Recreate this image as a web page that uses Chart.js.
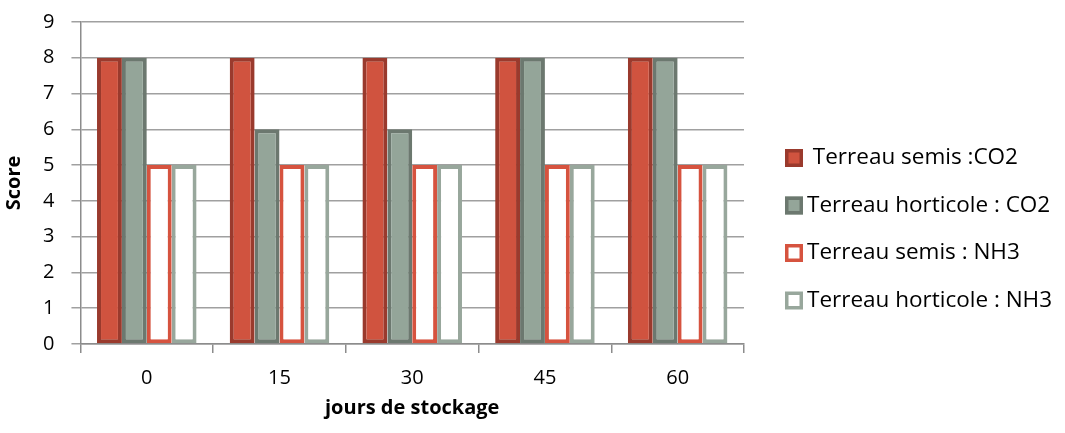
<!DOCTYPE html>
<html>
<head>
<title>Score</title>
<script src="https://cdn.jsdelivr.net/npm/chart.js@4/dist/chart.umd.min.js"></script>
<style>
html, body { margin: 0; padding: 0; background: #fff; }
#wrap { width: 1065px; height: 433px; }
</style>
</head>
<body>
<div id="wrap"><canvas id="myChart"></canvas></div>
<script>
var jours = ['0', '15', '30', '45', '60'];
var semisCO2 = [8, 8, 8, 8, 8];
var horticoleCO2 = [8, 6, 6, 8, 8];
var semisNH3 = [5, 5, 5, 5, 5];
var horticoleNH3 = [5, 5, 5, 5, 5];
var yTicks = [0, 1, 2, 3, 4, 5, 6, 7, 8, 9];

Chart.defaults.font.family = '"Open Sans", sans-serif';
Chart.defaults.color = '#000';

function serie(label, data, fill, border) {
  return {
    label: label,
    data: data,
    backgroundColor: fill,
    borderColor: border,
    borderWidth: 4,
    borderSkipped: false,
    categoryPercentage: 0.75,
    barPercentage: 1.0
  };
}

// legend on the right, drawn by hand (the built-in one gets clipped at half width)
var rightLegend = {
  id: 'rightLegend',
  afterDraw: function (chart) {
    var c = chart.ctx;
    var x0 = chart.chartArea.right + 41;
    c.save();
    c.font = '22.5px "Open Sans"';
    c.textBaseline = 'middle';
    chart.data.datasets.forEach(function (ds, i) {
      var yc = 158 + i * 47.5;
      c.fillStyle = ds.backgroundColor;
      c.fillRect(x0, yc - 9, 18, 18);
      c.strokeStyle = ds.borderColor;
      c.lineWidth = 3.5;
      c.strokeRect(x0 + 1.75, yc - 7.25, 14.5, 14.5);
      c.fillStyle = '#000';
      c.fillText(ds.label, x0 + 22, yc);
    });
    c.restore();
  }
};

function draw() {
  var ctx = document.getElementById('myChart').getContext('2d');
  var myChart = new Chart(ctx, {
    type: 'bar',
    data: {
      labels: jours,
      datasets: [
        serie(' Terreau semis :CO2', semisCO2, '#D0533F', '#9A3A2D'),
        serie('Terreau horticole : CO2', horticoleCO2, '#94A599', '#6C786F'),
        serie('Terreau semis : NH3', semisNH3, '#FFFFFF', '#D6533F'),
        serie('Terreau horticole : NH3', horticoleNH3, '#FFFFFF', '#98A79C')
      ]
    },
    plugins: [rightLegend],
    options: {
      responsive: true,
      maintainAspectRatio: false,
      animation: false,
      layout: { padding: { top: 22, right: 321, left: 0, bottom: 13 } },
      plugins: {
        tooltip: { enabled: false },
        legend: { display: false }
      },
      scales: {
        x: {
          grid: { drawOnChartArea: false, color: '#8C8C8C', tickLength: 9, lineWidth: 1.5 },
          border: { color: '#8C8C8C', width: 1.5 },
          ticks: { font: { size: 20 }, padding: 13 },
          title: { display: true, text: 'jours de stockage', font: { size: 20, weight: 'bold' }, padding: { top: -7, bottom: 0 } }
        },
        y: {
          min: 0,
          max: 9,
          afterBuildTicks: function (axis) {
            axis.ticks = yTicks.map(function (v) { return { value: v }; });
          },
          afterFit: function (axis) {
            axis.paddingTop = 0;
          },
          grid: { color: '#A0A0A0', tickLength: 9, lineWidth: 1.5 },
          border: { color: '#8C8C8C', width: 1.5 },
          ticks: { font: { size: 20 }, padding: 17 },
          title: { display: true, text: 'Score', font: { size: 20, weight: 'bold' }, padding: { top: 2, bottom: 0 } }
        }
      }
    }
  });
}

Promise.all([
  document.fonts.load('20px "Open Sans"'),
  document.fonts.load('bold 20px "Open Sans"')
]).then(draw, draw);
</script>
</body>
</html>
